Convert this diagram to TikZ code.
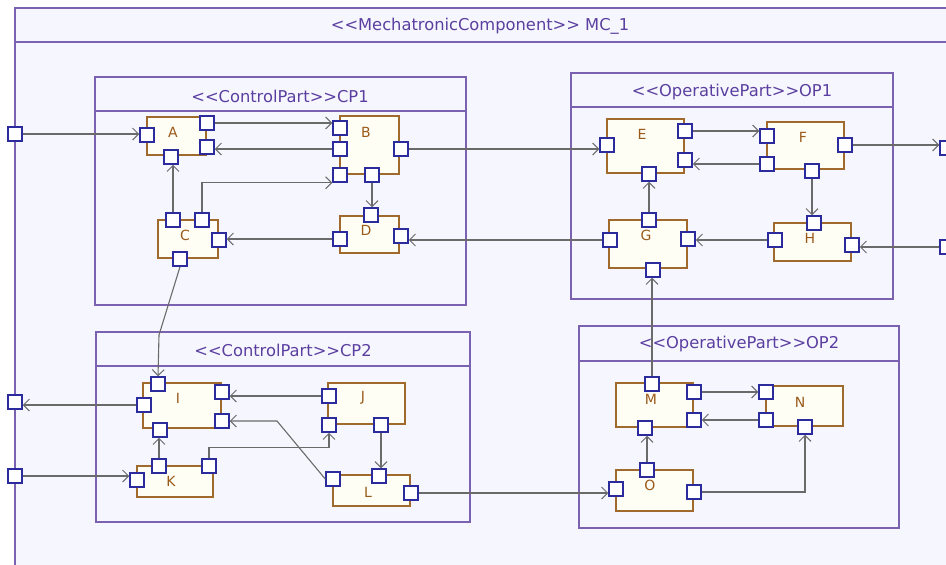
\documentclass[tikz,border=0pt]{standalone}
\usepackage{fontspec}
\setmainfont{DejaVu Sans}[Ligatures=TeXOff]
\usetikzlibrary{arrows.meta,calc}
\definecolor{bgc}{HTML}{F6F7FE}
\definecolor{framec}{HTML}{7A62B0}
\definecolor{titlec}{HTML}{5B3FA0}
\definecolor{compc}{HTML}{A06A2C}
\definecolor{compfill}{HTML}{FFFEF5}
\definecolor{portc}{HTML}{2B2B9E}
\definecolor{linec}{HTML}{6A6A6A}
\definecolor{lblc}{HTML}{9A5A1A}
\tikzset{
  frame/.style={draw=framec, line width=1.2pt, fill=bgc},
  hdr/.style={draw=framec, line width=1.2pt},
  title/.style={text=titlec, font=\fontsize{16.3}{19}\selectfont, inner sep=0pt},
  comp/.style={draw=compc, line width=1.3pt, fill=compfill, inner sep=0pt},
  lbl/.style={text=lblc, font=\fontsize{14}{16}\selectfont, inner sep=0pt},
  port/.style={draw=portc, fill=white, line width=1.5pt, minimum size=14pt, inner sep=0pt},
  conn/.style={draw=linec, line width=1.1pt, -{Straight Barb[length=6pt,width=12pt,line width=1pt]}},
}
\begin{document}
\begin{tikzpicture}[x=1pt,y=-1pt]
\useasboundingbox (0,0) rectangle (946,565);
\clip (0,0) rectangle (946,565);
\fill[white] (0,0) rectangle (946,565);
% frames
\draw[frame] (15,8) rectangle (970,590);
\draw[hdr] (15,42) -- (970,42);
\node[title] (tMC) at (480,26) {<<MechatronicComponent>> MC\_1};
\draw[frame] (95,77) rectangle (466,305);
\draw[hdr] (95,111) -- (466,111);
\node[title] (tCP1) at (280,96) {<<ControlPart>>CP1};
\draw[frame] (571,73) rectangle (893,299);
\draw[hdr] (571,107) -- (893,107);
\node[title] (tOP1) at (732,92) {<<OperativePart>>OP1};
\draw[frame] (96,332) rectangle (470,522);
\draw[hdr] (96,366) -- (470,366);
\node[title] (tCP2) at (283,350) {<<ControlPart>>CP2};
\draw[frame] (579,326) rectangle (899,528);
\draw[hdr] (579,361) -- (899,361);
\node[title] (tOP2) at (739,344) {<<OperativePart>>OP2};
% components
\node[comp, minimum width=59pt, minimum height=38pt] (A) at (176.5,136) {};
\node[comp, minimum width=59pt, minimum height=58pt] (B) at (369.5,145) {};
\node[comp, minimum width=60pt, minimum height=38pt] (C) at (188,239) {};
\node[comp, minimum width=59pt, minimum height=37pt] (D) at (369.5,234.5) {};
\node[comp, minimum width=77pt, minimum height=54pt] (E) at (645.5,146) {};
\node[comp, minimum width=77pt, minimum height=47pt] (F) at (805.5,145.5) {};
\node[comp, minimum width=78pt, minimum height=48pt] (G) at (648,244) {};
\node[comp, minimum width=77pt, minimum height=38pt] (H) at (812.5,242) {};
\node[comp, minimum width=78pt, minimum height=45pt] (I) at (182,405.5) {};
\node[comp, minimum width=77pt, minimum height=41pt] (J) at (366.5,403.5) {};
\node[comp, minimum width=76pt, minimum height=31pt] (K) at (175,481.5) {};
\node[comp, minimum width=77pt, minimum height=31pt] (L) at (371.5,490.5) {};
\node[comp, minimum width=77pt, minimum height=44pt] (M) at (654.5,405) {};
\node[comp, minimum width=77pt, minimum height=40pt] (N) at (804.5,406) {};
\node[comp, minimum width=77pt, minimum height=41pt] (O) at (654.5,490.5) {};
\node[lbl] (Al) at (173,132) {A};
\node[lbl] (Bl) at (366,132) {B};
\node[lbl] (Cl) at (185,235) {C};
\node[lbl] (Dl) at (366,230) {D};
\node[lbl] (El) at (642,134) {E};
\node[lbl] (Fl) at (803,137) {F};
\node[lbl] (Gl) at (646,235) {G};
\node[lbl] (Hl) at (810,238) {H};
\node[lbl] (Il) at (178,398) {I};
\node[lbl] (Jl) at (363,398) {J};
\node[lbl] (Kl) at (171,481) {K};
\node[lbl] (Ll) at (368,492) {L};
\node[lbl] (Ml) at (651,399) {M};
\node[lbl] (Nl) at (800,402) {N};
\node[lbl] (Ol) at (650,485) {O};
% ports
\node[port] (mcL1) at (15,134) {};
\node[port] (mcL2) at (15,402) {};
\node[port] (mcL3) at (15,476) {};
\node[port] (mcR1) at (947,148) {};
\node[port] (mcR2) at (947,247) {};
\node[port] (Aw) at (147,135) {};
\node[port] (Ane) at (207,123) {};
\node[port] (Ase) at (207,147) {};
\node[port] (As) at (171,157) {};
\node[port] (Bw1) at (340,128) {};
\node[port] (Bw2) at (340,149) {};
\node[port] (Bw3) at (340,175) {};
\node[port] (Be) at (401,149) {};
\node[port] (Bs) at (372,175) {};
\node[port] (Cn1) at (173,220) {};
\node[port] (Cn2) at (202,220) {};
\node[port] (Ce) at (219,240) {};
\node[port] (Cs) at (180,259) {};
\node[port] (Dn) at (371,215) {};
\node[port] (Dw) at (340,239) {};
\node[port] (De) at (401,236) {};
\node[port] (Ew) at (607,145) {};
\node[port] (Ene) at (685,131) {};
\node[port] (Ese) at (685,160) {};
\node[port] (Es) at (649,174) {};
\node[port] (Fw1) at (767,136) {};
\node[port] (Fw2) at (767,164) {};
\node[port] (Fe) at (845,145) {};
\node[port] (Fs) at (812,171) {};
\node[port] (Gn) at (649,220) {};
\node[port] (Gw) at (610,240) {};
\node[port] (Ge) at (688,239) {};
\node[port] (Gs) at (653,270) {};
\node[port] (Hn) at (814,223) {};
\node[port] (Hw) at (775,240) {};
\node[port] (He) at (852,245) {};
\node[port] (In) at (158,384) {};
\node[port] (Iw) at (144,405) {};
\node[port] (Ie1) at (222,392) {};
\node[port] (Ie2) at (222,421) {};
\node[port] (Is) at (160,430) {};
\node[port] (Jw1) at (329,396) {};
\node[port] (Jw2) at (329,425) {};
\node[port] (Js) at (381,425) {};
\node[port] (Kw) at (137,480) {};
\node[port] (Kn1) at (159,466) {};
\node[port] (Kn2) at (209,466) {};
\node[port] (Lw) at (333,479) {};
\node[port] (Ln) at (379,476) {};
\node[port] (Le) at (411,493) {};
\node[port] (Mn) at (652,384) {};
\node[port] (Me1) at (694,392) {};
\node[port] (Me2) at (694,420) {};
\node[port] (Ms) at (645,428) {};
\node[port] (Nw1) at (766,392) {};
\node[port] (Nw2) at (766,420) {};
\node[port] (Ns) at (805,427) {};
\node[port] (On) at (647,470) {};
\node[port] (Ow) at (616,489) {};
\node[port] (Oe) at (694,492) {};
% connectors CP1
\draw[conn] (mcL1.east) -- (mcL1.east -| Aw.west);
\draw[conn] (Ane.east) -- (Ane.east -| Bw1.west);
\draw[conn] (Bw2.west) -- (Bw2.west -| Ase.east);
\draw[conn] (Cn1.north) -- (Cn1.north |- As.south);
\draw[conn] (Cn2.north) |- (Bw3.south west);
\draw[conn] (Bs.south) -- (Bs.south |- Dn.north);
\draw[conn] (Dw.west) -- (Dw.west -| Ce.east);
\draw[conn] (Gw.west) -- (Gw.west -| De.east);
\draw[conn] (Be.east) -- (Be.east -| Ew.west);
\draw[conn] (Cs.south) -- (159,335) -- (In.north);
% OP1
\draw[conn] (Ene.east) -- (Ene.east -| Fw1.west);
\draw[conn] (Fw2.west) -- (Fw2.west -| Ese.east);
\draw[conn] (Gn.north) -- (Gn.north |- Es.south);
\draw[conn] (Fs.south) -- (Fs.south |- Hn.north);
\draw[conn] (Hw.west) -- (Hw.west -| Ge.east);
\draw[conn] (mcR2.west) -- (mcR2.west -| He.east);
\draw[conn] (Fe.east) -- (Fe.east -| mcR1.west);
\draw[conn] (Mn.north) -- (Mn.north |- Gs.south);
% CP2
\draw[conn] (Iw.west) -- (Iw.west -| mcL2.east);
\draw[conn] (mcL3.east) -- (mcL3.east -| Kw.west);
\draw[conn] (Jw1.west) -- (Jw1.west -| Ie1.east);
\draw[conn] (Lw.west) -- (277,421) -- (Ie2.east);
\draw[conn] (Kn1.north) -- (Kn1.north |- Is.south);
\draw[conn] (Kn2.north) |- ($(Jw2.south)+(0,15)$) -- (Jw2.south);
\draw[conn] (Js.south) -- (Js.south |- Ln.north);
\draw[conn] (Le.east) -- (Le.east -| Ow.west);
% OP2
\draw[conn] (Me1.east) -- (Me1.east -| Nw1.west);
\draw[conn] (Nw2.west) -- (Nw2.west -| Me2.east);
\draw[conn] (On.north) -- (On.north |- Ms.south);
\draw[conn] (Oe.east) -| (Ns.south);
\end{tikzpicture}
\end{document}
